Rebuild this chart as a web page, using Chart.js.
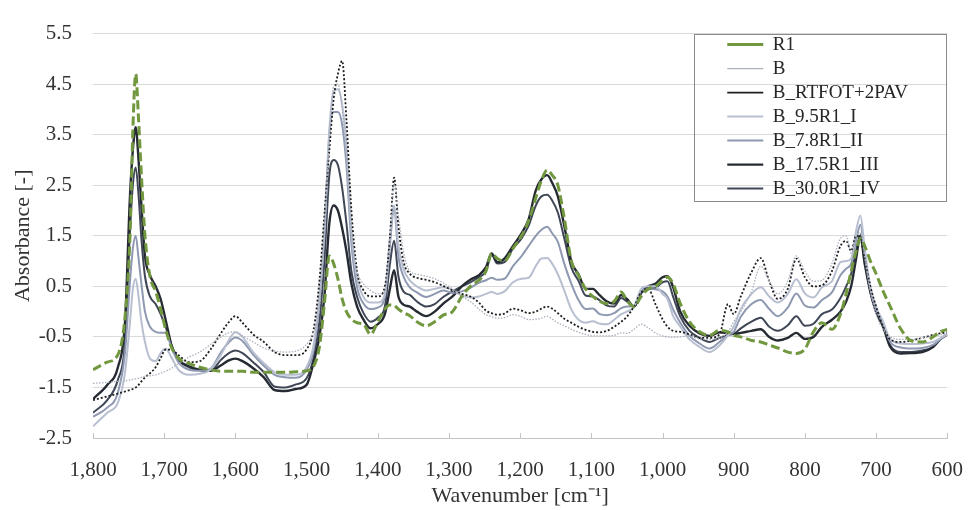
<!DOCTYPE html>
<html>
<head>
<meta charset="utf-8">
<title>FTIR spectra</title>
<script src="https://cdn.jsdelivr.net/npm/chart.js@4.4.1/dist/chart.umd.min.js"></script>
<style>
  html, body { margin: 0; padding: 0; background: #ffffff; }
  canvas { display: block; }
</style>
</head>
<body>
<canvas id="spectra" width="975" height="510"></canvas>
<script>
// wavenumbers [cm-1] shared by all spectra (denser around the sharp bands)
const wavenumbers = [
  1800, 1780, 1765, 1755, 1748, 1744, 1740, 1736, 1732, 1727,
  1720, 1712, 1705, 1698, 1690, 1680, 1665, 1650, 1635, 1620,
  1610, 1600, 1590, 1575, 1560, 1545, 1530, 1515, 1500, 1490,
  1482, 1475, 1468, 1462, 1456, 1450, 1444, 1437, 1429, 1420,
  1410, 1400, 1390, 1383, 1377, 1371, 1364, 1355, 1345, 1332,
  1320, 1308, 1295, 1282, 1270, 1258, 1248, 1240, 1232, 1222,
  1210, 1198, 1188, 1178, 1170, 1162, 1155, 1147, 1138, 1128,
  1118, 1108, 1098, 1088, 1078, 1068, 1058, 1050, 1040, 1030,
  1020, 1010, 1000, 993, 985, 975, 962, 948, 934, 920,
  908, 900, 890, 875, 862, 850, 838, 824, 812, 800,
  788, 776, 762, 750, 742, 735, 728, 722, 716, 708,
  700, 690, 680, 665, 650, 635, 620, 610, 600
];

const r1 = [
  -1.15, -1.0, -0.85, -0.1, 1.5, 3.6, 4.7, 3.8, 2.7, 1.5,
  0.7, 0.4, 0.05, -0.35, -0.7, -0.92, -1.03, -1.1, -1.15, -1.18,
  -1.18, -1.18, -1.18, -1.2, -1.2, -1.2, -1.2, -1.19, -1.17, -1.08,
  -0.7, 0.15, 1.1, 0.95, 0.65, 0.25, 0.0, -0.15, -0.22, -0.25,
  -0.45, -0.2, 0.05, 0.13, 0.12, 0.05, -0.02, -0.08, -0.2, -0.28,
  -0.2, -0.07, 0.0, 0.3, 0.5, 0.62, 0.8, 1.15, 1.05, 1.0,
  1.25, 1.5, 1.8, 2.25, 2.6, 2.8, 2.7, 2.5, 1.85, 1.0,
  0.72, 0.45, 0.3, 0.2, 0.16, 0.2, 0.39, 0.22, 0.1, 0.3,
  0.45, 0.5, 0.62, 0.68, 0.55, 0.16, -0.2, -0.4, -0.47, -0.37,
  -0.4, -0.47, -0.5, -0.57, -0.6, -0.66, -0.72, -0.8, -0.83, -0.74,
  -0.4, -0.22, -0.35, -0.05, 0.36, 0.8, 1.2, 1.45, 1.3, 1.0,
  0.75, 0.4, 0.1, -0.35, -0.58, -0.6, -0.5, -0.4, -0.35
];

const b = [
  -1.42, -1.4, -1.38, -1.37, -1.35, -1.34, -1.33, -1.32, -1.3, -1.28,
  -1.27, -1.25, -1.22, -1.18, -1.12, -1.03, -0.9, -0.8, -0.65, -0.5,
  -0.42, -0.4, -0.48, -0.6, -0.72, -0.78, -0.8, -0.78, -0.65, -0.4,
  0.05, 1.6, 3.4, 4.45, 4.5, 4.0, 3.0, 1.6, 0.8, 0.55,
  0.42, 0.35, 0.4, 1.3, 2.55, 1.9, 1.2, 0.8, 0.74, 0.7,
  0.65, 0.57, 0.45, 0.3, 0.2, 0.05, -0.06, -0.1, -0.13, -0.12,
  -0.06, -0.1, -0.16, -0.15, -0.13, -0.09, -0.15, -0.22, -0.28, -0.35,
  -0.41, -0.45, -0.48, -0.48, -0.48, -0.47, -0.42, -0.43, -0.35, -0.25,
  -0.32, -0.42, -0.48, -0.5, -0.51, -0.5, -0.48, -0.54, -0.55, -0.52,
  -0.4, -0.2, 0.0, 0.4, 0.9, 0.6, 0.35, 0.6, 1.1, 0.8,
  0.6, 0.62, 0.95, 1.45, 1.5, 1.15, 1.5, 1.55, 1.1, 0.4,
  -0.05, -0.35, -0.5, -0.55, -0.55, -0.52, -0.48, -0.46, -0.45
];

const bRtfot = [
  -1.75, -1.68, -1.62, -1.58, -1.55, -1.53, -1.5, -1.45, -1.38, -1.3,
  -1.22, -1.1, -0.92, -0.75, -0.75, -0.86, -1.0, -0.98, -0.75, -0.42,
  -0.22, -0.09, -0.22, -0.45, -0.6, -0.8, -0.86, -0.86, -0.75, -0.35,
  0.6, 1.9, 3.2, 4.2, 4.7, 4.96, 3.8, 2.0, 0.8, 0.42,
  0.3, 0.3, 0.5, 1.44, 2.65, 1.7, 1.0, 0.75, 0.67, 0.63,
  0.58, 0.51, 0.42, 0.35, 0.3, 0.18, 0.02, -0.03, -0.06, -0.04,
  0.06, 0.02, -0.03, 0.0, 0.06, 0.1, 0.06, -0.03, -0.14, -0.22,
  -0.3, -0.36, -0.4, -0.41, -0.38, -0.3, -0.2, -0.1, 0.1, 0.38,
  0.45, 0.15, -0.15, -0.3, -0.38, -0.4, -0.45, -0.52, -0.52, -0.45,
  0.15, -0.05, 0.3, 0.78, 1.06, 0.6, 0.25, 0.45, 1.05, 0.68,
  0.5, 0.52, 0.8, 1.3, 1.4, 1.2, 1.5, 1.45, 1.05, 0.5,
  0.1, -0.3, -0.55, -0.6, -0.57, -0.52, -0.46, -0.43, -0.41
];

const b95 = [
  -2.27, -2.0, -1.8, -1.2, -0.2, 0.45, 0.65, 0.3, -0.2, -0.6,
  -0.93, -0.98, -0.82, -0.73, -0.9, -1.15, -1.25, -1.23, -1.15, -0.85,
  -0.58, -0.41, -0.5, -0.8, -1.02, -1.2, -1.25, -1.25, -1.1, -0.65,
  0.3, 1.6, 3.6, 4.35, 4.4, 4.1, 3.3, 1.6, 0.67, 0.29,
  0.18, 0.18, 0.35, 1.44, 2.1, 1.3, 0.85, 0.62, 0.5, 0.42,
  0.45, 0.48, 0.43, 0.32, 0.28, 0.3, 0.35, 0.39, 0.35, 0.4,
  0.58, 0.65, 0.67, 0.9, 1.05, 1.06, 0.95, 0.74, 0.42, 0.04,
  -0.16, -0.22, -0.19, -0.24, -0.25, -0.16, -0.05, 0.0, 0.1, 0.45,
  0.5, 0.5, 0.35, 0.25, -0.09, -0.3, -0.55, -0.7, -0.8, -0.67,
  -0.47, -0.3, 0.05, 0.35, 0.48, 0.3, 0.18, 0.35, 0.64, 0.36,
  0.28, 0.48, 0.6, 0.98, 1.0, 1.05, 1.6, 1.9, 1.25, 0.5,
  0.1, -0.2, -0.55, -0.63, -0.64, -0.63, -0.6, -0.53, -0.45
];

const b78 = [
  -2.08, -1.9, -1.6, -0.8, 0.6, 1.25, 1.5, 1.05, 0.55, 0.0,
  -0.3, -0.4, -0.42, -0.42, -0.7, -1.0, -1.15, -1.17, -1.13, -0.8,
  -0.62, -0.51, -0.58, -0.85, -1.07, -1.25, -1.3, -1.31, -1.15, -0.75,
  0.2, 1.5, 3.5, 3.95, 3.95, 3.7, 2.9, 1.35, 0.48, 0.16,
  0.05, 0.08, 0.3, 1.31, 2.05, 1.1, 0.7, 0.48, 0.38, 0.29,
  0.35, 0.42, 0.37, 0.4, 0.47, 0.57, 0.62, 0.67, 0.63, 0.65,
  0.9, 1.1, 1.3, 1.5, 1.62, 1.68, 1.55, 1.38, 0.95, 0.55,
  0.23, 0.05, 0.06, -0.05, -0.07, -0.03, 0.07, 0.1, 0.12, 0.4,
  0.45, 0.44, 0.4, 0.3, 0.04, -0.22, -0.48, -0.63, -0.73, -0.6,
  -0.47, -0.4, -0.1, 0.15, 0.23, 0.05, -0.09, 0.08, 0.36, 0.12,
  0.08, 0.23, 0.38, 0.72, 0.85, 0.95, 1.4, 1.72, 1.12, 0.45,
  0.05, -0.25, -0.6, -0.71, -0.73, -0.72, -0.66, -0.55, -0.45
];

const b175 = [
  -1.73, -1.45, -1.1, -0.2, 2.3, 3.2, 3.65, 3.0, 2.1, 1.1,
  0.72, 0.5, 0.25, -0.16, -0.65, -0.95, -1.08, -1.15, -1.17, -1.06,
  -0.97, -0.93, -0.98, -1.12, -1.3, -1.55, -1.57, -1.53, -1.45, -1.0,
  -0.5, 0.3, 1.75, 2.1, 2.0, 1.65, 1.2, 0.55, 0.1, -0.16,
  -0.33, -0.25, -0.05, 0.45, 0.82, 0.3, 0.14, 0.1, 0.0, -0.09,
  0.0, 0.16, 0.3, 0.5, 0.63, 0.72, 0.88, 1.15, 0.98, 1.05,
  1.3, 1.55, 1.83, 2.4, 2.62, 2.7, 2.55, 2.28, 1.7, 0.99,
  0.74, 0.45, 0.45, 0.32, 0.2, 0.16, 0.33, 0.25, 0.1, 0.38,
  0.5, 0.55, 0.68, 0.7, 0.48, 0.0, -0.28, -0.43, -0.48, -0.41,
  -0.43, -0.44, -0.42, -0.38, -0.35, -0.5, -0.57, -0.52, -0.42, -0.54,
  -0.5, -0.3, -0.16, 0.0, 0.2, 0.5, 1.05, 1.5, 0.95, 0.4,
  0.0, -0.3, -0.7, -0.83, -0.82, -0.8, -0.7, -0.55, -0.45
];

const b300 = [
  -2.0, -1.75, -1.35, -0.6, 1.6, 2.5, 2.85, 2.3, 1.44, 0.7,
  0.3, 0.15, -0.05, -0.3, -0.65, -0.95, -1.1, -1.16, -1.17, -0.95,
  -0.83, -0.77, -0.82, -1.0, -1.2, -1.48, -1.5, -1.44, -1.32, -0.9,
  -0.2, 1.0, 2.7, 3.0, 2.9, 2.45, 1.75, 0.8, 0.29, -0.03,
  -0.2, -0.12, 0.1, 0.93, 1.4, 0.7, 0.4, 0.33, 0.2, 0.1,
  0.15, 0.29, 0.4, 0.5, 0.58, 0.68, 0.8, 1.12, 0.95, 0.98,
  1.25, 1.45, 1.7, 2.1, 2.28, 2.31, 2.2, 1.96, 1.45, 0.87,
  0.61, 0.32, 0.3, 0.22, 0.12, 0.1, 0.27, 0.2, 0.1, 0.36,
  0.45, 0.47, 0.58, 0.6, 0.29, -0.1, -0.38, -0.52, -0.6, -0.52,
  -0.46, -0.44, -0.33, -0.2, -0.12, -0.3, -0.38, -0.27, -0.09, -0.28,
  -0.24, -0.05, 0.04, 0.27, 0.5, 0.75, 1.2, 1.51, 1.0, 0.38,
  0.0, -0.3, -0.67, -0.8, -0.8, -0.77, -0.7, -0.55, -0.45
];

const seriesNames = ['R1', 'B', 'B_RTFOT+2PAV', 'B_9.5R1_I', 'B_7.8R1_II', 'B_17.5R1_III', 'B_30.0R1_IV'];
const seriesValues = [r1, b, bRtfot, b95, b78, b175, b300];

const xTickValues = [1800, 1700, 1600, 1500, 1400, 1300, 1200, 1100, 1000, 900, 800, 700, 600];
const xTickLabels = ['1,800', '1,700', '1,600', '1,500', '1,400', '1,300', '1,200', '1,100', '1,000', '900', '800', '700', '600'];
const yTickValues = [-2.5, -1.5, -0.5, 0.5, 1.5, 2.5, 3.5, 4.5, 5.5];

// line looks, same order as seriesNames
const styles = [
  { color: '#72983f', width: 3,   dash: [9, 4] },
  { color: '#a9b0bc', width: 1.3, dash: [1.5, 1.5] },
  { color: '#1e1e1e', width: 1.8, dash: [2, 2] },
  { color: '#b7bfd0', width: 2,   dash: [] },
  { color: '#8e98b1', width: 2,   dash: [] },
  { color: '#262a33', width: 2.4, dash: [] },
  { color: '#3f4757', width: 2,   dash: [] }
];

const serif = "'Liberation Serif', 'Times New Roman', serif";

// legend sits inside the plot (top right) with a thin frame; x axis gets inward tick marks
const legendFrame = {
  id: 'legendFrame',
  afterLayout(chart) {
    const lg = chart.legend;
    const area = chart.chartArea;
    lg.left = area.right - 225;
    lg.top = area.top - 3.5;
    lg.right = area.right;
    lg.bottom = area.top + 185;
    lg.width = lg.right - lg.left;
    lg.height = lg.bottom - lg.top;
  },
  afterDraw(chart) {
    const ctx = chart.ctx;
    const area = chart.chartArea;
    const xs = chart.scales.x;
    ctx.save();
    ctx.strokeStyle = '#8a8a8a';
    ctx.lineWidth = 1;
    ctx.strokeRect(Math.round(area.right - 253) + 0.5, Math.round(area.top) + 0.5, 252, 167);

    ctx.strokeStyle = '#c4c4c4';
    ctx.beginPath();
    xTickValues.forEach(v => {
      const px = Math.round(xs.getPixelForValue(v)) + 0.5;
      ctx.moveTo(px, area.bottom);
      ctx.lineTo(px, area.bottom - 5);
    });
    ctx.stroke();
    ctx.restore();
  }
};

const ctx = document.getElementById('spectra').getContext('2d');
new Chart(ctx, {
  type: 'line',
  data: {
    datasets: seriesNames.map((name, k) => ({
      label: name,
      data: wavenumbers.map((w, i) => ({ x: w, y: seriesValues[k][i] })),
      borderColor: styles[k].color,
      backgroundColor: styles[k].color,
      borderWidth: styles[k].width,
      borderDash: styles[k].dash,
      pointRadius: 0,
      cubicInterpolationMode: 'monotone',
      fill: false
    }))
  },
  options: {
    responsive: false,
    animation: false,
    layout: { padding: { top: 22, right: 18, left: 0, bottom: 0 } },
    plugins: {
      tooltip: { enabled: false },
      legend: {
        position: 'chartArea',
        align: 'start',
        labels: {
          usePointStyle: true,
          pointStyle: 'line',
          pointStyleWidth: 36,
          padding: 5,
          color: '#262626',
          font: { family: serif, size: 19 }
        }
      }
    },
    scales: {
      x: {
        type: 'linear',
        reverse: true,
        min: 600,
        max: 1800,
        afterBuildTicks: scale => { scale.ticks = xTickValues.map(value => ({ value })); },
        afterFit: scale => { scale.height = 72; },
        grid: { display: false },
        border: { display: true, color: '#c4c4c4', width: 1 },
        ticks: {
          autoSkip: false,
          maxRotation: 0,
          minRotation: 0,
          padding: 12,
          color: '#333333',
          font: { family: serif, size: 21 },
          callback: (value, i) => xTickLabels[i]
        },
        title: {
          display: true,
          text: 'Wavenumber [cm⁻¹]',
          color: '#333333',
          font: { family: serif, size: 22 },
          padding: { top: 0, bottom: 1 }
        }
      },
      y: {
        min: -2.5,
        max: 5.5,
        afterBuildTicks: scale => { scale.ticks = yTickValues.map(value => ({ value })); },
        afterFit: scale => { scale.width = 93; },
        grid: { color: '#dadada', lineWidth: 1, drawTicks: false },
        border: { display: false },
        ticks: {
          padding: 21,
          color: '#333333',
          font: { family: serif, size: 21 },
          callback: value => value.toFixed(1)
        },
        title: {
          display: true,
          text: 'Absorbance [-]',
          color: '#333333',
          font: { family: serif, size: 22 },
          padding: { top: 10, bottom: 0 }
        }
      }
    }
  },
  plugins: [legendFrame]
});
</script>
</body>
</html>
